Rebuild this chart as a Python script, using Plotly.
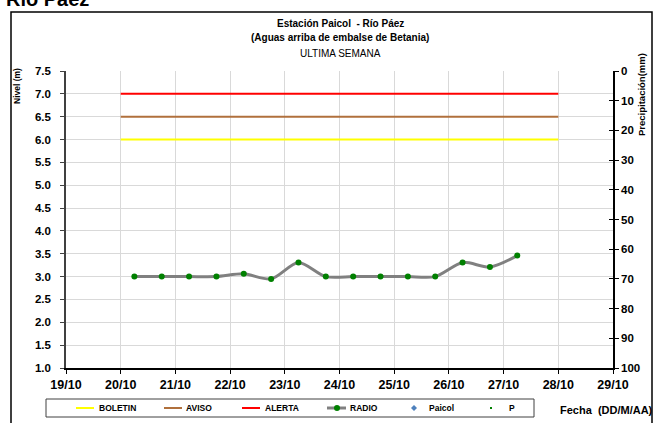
import plotly.graph_objects as go

# ---- data ----
fechas = ["2023-10-20 06:00", "2023-10-20 18:00", "2023-10-21 06:00", "2023-10-21 18:00",
          "2023-10-22 06:00", "2023-10-22 18:00", "2023-10-23 06:00", "2023-10-23 18:00",
          "2023-10-24 06:00", "2023-10-24 18:00", "2023-10-25 06:00", "2023-10-25 18:00",
          "2023-10-26 06:00", "2023-10-26 18:00", "2023-10-27 06:00"]
radio = [3.0, 3.0, 3.0, 3.0, 3.06, 2.95, 3.31, 3.0, 3.0, 3.0, 3.0, 3.0, 3.31, 3.21, 3.46]
umbral_fechas = ["2023-10-20 00:00", "2023-10-28 00:00"]
boletin = [6.0, 6.0]
aviso = [6.5, 6.5]
alerta = [7.0, 7.0]
paicol_x, paicol_y = [None], [None]
p_x, p_y = [None], [None]
legend_names = ["BOLETIN", "AVISO", "ALERTA", "RADIO", "Paicol", "P"]

FONT = "Liberation Sans, Arial, sans-serif"
C_BOL, C_AVI, C_ALE, C_RAD, C_MK, C_PAI = "#FFFF00", "#B0703C", "#FF0000", "#808080", "#008000", "#4F81BD"

fig = go.Figure()
fig.add_trace(go.Scatter(x=umbral_fechas, y=boletin, mode="lines", name=legend_names[0],
                         line=dict(color=C_BOL, width=2)))
fig.add_trace(go.Scatter(x=umbral_fechas, y=aviso, mode="lines", name=legend_names[1],
                         line=dict(color=C_AVI, width=2)))
fig.add_trace(go.Scatter(x=umbral_fechas, y=alerta, mode="lines", name=legend_names[2],
                         line=dict(color=C_ALE, width=2)))
fig.add_trace(go.Scatter(x=fechas, y=radio, mode="lines+markers", name=legend_names[3],
                         line=dict(color=C_RAD, width=3, shape="spline", smoothing=0.8),
                         marker=dict(color=C_MK, size=6)))
fig.add_trace(go.Scatter(x=paicol_x, y=paicol_y, mode="markers", name=legend_names[4],
                         marker=dict(color=C_PAI, symbol="diamond", size=6)))
fig.add_trace(go.Scatter(x=p_x, y=p_y, mode="markers", name=legend_names[5], yaxis="y2",
                         marker=dict(color=C_MK, symbol="square", size=3)))
fig.add_trace(go.Scatter(x=[None], y=[None], yaxis="y3", hoverinfo="skip"))

fig.update_layout(
    width=653, height=423,
    margin=dict(l=66, r=40, t=71, b=55, autoexpand=False),
    paper_bgcolor="white", plot_bgcolor="white",
    font=dict(family=FONT, color="black"),
    showlegend=False,
    xaxis=dict(type="date", range=["2023-10-19", "2023-10-29"], dtick=86400000,
               tickformat="%d/%m", showgrid=True, gridcolor="#D9D9D9", gridwidth=1,
               ticks="outside", ticklen=4, tickcolor="black",
               showline=True, linecolor="black", linewidth=1.5,
               tickfont=dict(size=12.5, family=FONT, weight="bold"), zeroline=False),
    yaxis=dict(range=[1.0, 7.5], dtick=0.5, tickformat=".1f", showgrid=True,
               gridcolor="#D9D9D9", gridwidth=1, ticks="outside", ticklen=4,
               tickcolor="#404040", showline=True, linecolor="#404040", linewidth=1.5,
               ticklabelstandoff=7,
               tickfont=dict(size=11.5, family=FONT, weight="bold"), zeroline=False),
    yaxis2=dict(range=[100, 0], dtick=10, overlaying="y", side="right", showgrid=False,
                ticks="outside", ticklen=4, tickcolor="black", showline=True,
                linecolor="black", linewidth=1.5, zeroline=False,
                tickfont=dict(size=11.5, family=FONT, weight="bold")),
    yaxis3=dict(range=[100, 0], dtick=10, overlaying="y", side="right", showgrid=False,
                ticks="inside", ticklen=4, tickcolor="black", showticklabels=False,
                showline=False, zeroline=False),
)

def px_x(px):
    return (px - 66) / 547

def px_y(py):
    return (368 - py) / 297

# outer border
fig.add_shape(type="rect", xref="paper", yref="paper",
              x0=px_x(11), x1=px_x(652), y0=px_y(430), y1=px_y(12),
              line=dict(color="black", width=1.5), fillcolor="rgba(0,0,0,0)", layer="below")

def ann(text, px, py, size, bold=True, xanchor="center", yanchor="middle", angle=0):
    fig.add_annotation(text=text, xref="paper", yref="paper",
                       x=px_x(px), y=px_y(py),
                       xanchor=xanchor, yanchor=yanchor, showarrow=False, textangle=angle,
                       font=dict(size=size, family=FONT, color="black",
                                 weight="bold" if bold else "normal"))

ann("Río Páez", 4, -1, 20, xanchor="left", yanchor="middle")
ann("Estación Paicol  - Río Páez", 340, 23, 10)
ann("(Aguas arriba de embalse de Betania)", 340, 38, 10)
ann("ULTIMA SEMANA", 340, 53, 10, bold=False)
ann("Nivel (m)", 17, 86, 8.5, angle=-90)
ann("Precipitación(mm)", 642, 95, 9.5, angle=-90)
ann("Fecha  (DD/M/AA)", 606, 410, 11)

# ---- custom legend box ----
LY = 408
fig.add_shape(type="rect", xref="paper", yref="paper",
              x0=px_x(46), x1=px_x(534), y0=px_y(417), y1=px_y(399),
              line=dict(color="#404040", width=1), fillcolor="white")
line_items = [(76, 94, C_BOL, 2, 97), (164, 182, C_AVI, 2, 184),
              (242, 260, C_ALE, 2, 263), (327, 346, C_RAD, 3, 348)]
for (a, b, col, w, tx), name in zip(line_items, legend_names[:4]):
    fig.add_shape(type="line", xref="paper", yref="paper",
                  x0=px_x(a), x1=px_x(b), y0=px_y(LY), y1=px_y(LY),
                  line=dict(color=col, width=w))
    ann(name, tx, LY, 8.5, xanchor="left")
# RADIO marker
fig.add_shape(type="circle", xref="paper", yref="paper",
              x0=px_x(334), x1=px_x(340), y0=px_y(411), y1=px_y(405),
              line=dict(color=C_MK, width=0), fillcolor=C_MK)
# Paicol diamond
fig.add_shape(type="path", xref="paper", yref="paper",
              path="M {0},{1} L {2},{3} L {0},{4} L {5},{3} Z".format(
                  px_x(414), px_y(405), px_x(417), px_y(408), px_y(411), px_x(411)),
              line=dict(color=C_PAI, width=0), fillcolor=C_PAI)
ann(legend_names[4], 427, LY, 8.5, xanchor="left")
# P square
fig.add_shape(type="rect", xref="paper", yref="paper",
              x0=px_x(490), x1=px_x(492), y0=px_y(409), y1=px_y(407),
              line=dict(color=C_MK, width=0), fillcolor=C_MK)
ann(legend_names[5], 507, LY, 8.5, xanchor="left")

fig.write_html("out.html", config={"displayModeBar": False},
               post_script="document.body.style.margin='0';")
